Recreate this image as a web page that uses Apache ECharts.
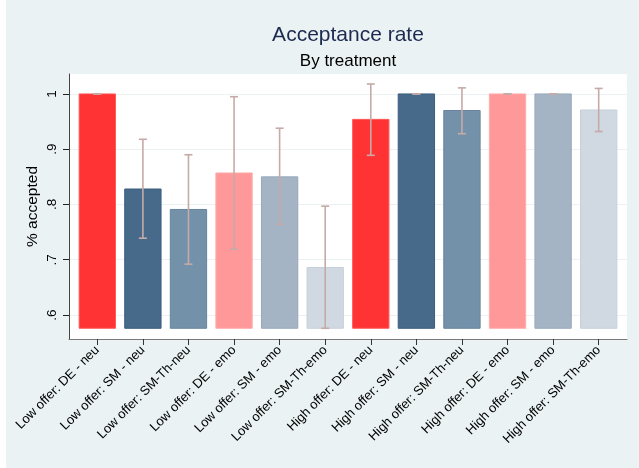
<!DOCTYPE html>
<html>
<head>
<meta charset="utf-8">
<script src="https://cdn.jsdelivr.net/npm/echarts@6/dist/echarts.min.js"></script>
<style>
  html, body { margin: 0; padding: 0; background: #ffffff; }
  #chart { width: 639px; height: 468px; }
</style>
</head>
<body>
<div id="chart"></div>
<script>
// Treatment groups along the x axis
const categories = [
  'Low offer: DE - neu', 'Low offer: SM - neu', 'Low offer: SM-Th-neu',
  'Low offer: DE - emo', 'Low offer: SM - emo', 'Low offer: SM-Th-emo',
  'High offer: DE - neu', 'High offer: SM - neu', 'High offer: SM-Th-neu',
  'High offer: DE - emo', 'High offer: SM - emo', 'High offer: SM-Th-emo'
];
// Mean share accepted per treatment
const acceptRate = [1.0, 0.828, 0.791, 0.857, 0.850, 0.686,
                    0.954, 1.0, 0.970, 1.0, 1.0, 0.971];
// Confidence interval bounds
const ciLow  = [1.0, 0.739, 0.692, 0.719, 0.764, 0.576,
                0.889, 1.0, 0.928, 1.0, 1.0, 0.932];
const ciHigh = [1.0, 0.918, 0.890, 0.995, 0.938, 0.797,
                1.018, 1.0, 1.011, 1.0, 1.0, 1.010];
// Y tick values
const yTicks = [0.6, 0.7, 0.8, 0.9, 1.0];

const fills   = ['#ff3333', '#476a8b', '#7491aa', '#ff9999', '#a4b4c5', '#d0d9e2'];
const borders = ['#ff5a5a', '#3b5c7e', '#67849e', '#ffaaaa', '#97a8ba', '#c6d0da'];
const barBase = Math.min.apply(null, ciLow);
const idx = categories.map((_, i) => i);
const FONT = 'Liberation Sans, Arial, sans-serif';

const chart = echarts.init(document.getElementById('chart'), null, { renderer: 'canvas' });

chart.setOption({
  backgroundColor: '#ffffff',
  animation: false,
  graphic: [{
    type: 'rect', z: -10, silent: true,
    shape: { x: 6, y: 0, width: 633, height: 468 },
    style: { fill: '#eaf2f3' }
  }],
  title: [
    { text: 'Acceptance rate', left: 348, top: 25, textAlign: 'center', padding: 0,
      textStyle: { fontFamily: FONT, fontSize: 21, fontWeight: 'normal', color: '#1c2a50' } },
    { text: 'By treatment', left: 348, top: 53, textAlign: 'center', padding: 0,
      textStyle: { fontFamily: FONT, fontSize: 17, fontWeight: 'normal', color: '#000000' } }
  ],
  grid: { left: 69, right: 12, top: 74, bottom: 129, show: true, backgroundColor: '#ffffff', borderWidth: 0 },
  xAxis: {
    type: 'value', min: -0.621, max: 11.621,
    axisLine: { show: true, onZero: false, lineStyle: { color: '#7a7a7a', width: 1 } },
    axisTick: { show: true, length: 6, customValues: idx, lineStyle: { color: '#333333' } },
    splitLine: { show: false },
    axisLabel: {
      customValues: idx, rotate: 45, margin: 9,
      fontFamily: FONT, fontSize: 13, color: '#000000',
      formatter: v => categories[Math.round(v)]
    }
  },
  yAxis: {
    type: 'value', min: 0.5566, max: 1.0361,
    name: '% accepted', nameLocation: 'middle', nameGap: 28, nameRotate: 90,
    nameMoveOverlap: false,
    nameTextStyle: { fontFamily: FONT, fontSize: 15.5, color: '#000000' },
    axisLine: { show: true, onZero: false, lineStyle: { color: '#444444', width: 1 } },
    axisTick: { show: true, length: 6, customValues: yTicks, lineStyle: { color: '#222222' } },
    splitLine: { show: true, lineStyle: { color: '#eaf2f3', width: 1 } },
    axisLabel: {
      customValues: yTicks, rotate: 90, margin: 10,
      fontFamily: FONT, fontSize: 13.5, color: '#000000',
      formatter: v => (Math.abs(v - 1) < 1e-9 ? '1' : String(+v.toFixed(1)).replace(/^0/, ''))
    }
  },
  series: [
    {
      type: 'custom',
      data: acceptRate.map((v, i) => [i, v]),
      renderItem: function (params, api) {
        const i = api.value(0);
        const top = api.coord([i, api.value(1)]);
        const bot = api.coord([i, barBase]);
        const w = api.size([0.797, 0])[0];
        const c = i % 6;
        return {
          type: 'rect',
          shape: { x: top[0] - w / 2, y: top[1], width: w, height: bot[1] - top[1] },
          style: { fill: fills[c], stroke: borders[c], lineWidth: 1 }
        };
      },
      z: 2
    },
    {
      type: 'custom',
      data: idx.map(i => [i, ciLow[i], ciHigh[i]]),
      renderItem: function (params, api) {
        const i = api.value(0);
        const lo = api.coord([i, api.value(1)]);
        const hi = api.coord([i, api.value(2)]);
        const cap = 4;
        const st = { stroke: '#c6aaa7', lineWidth: 1.6 };
        return {
          type: 'group',
          children: [
            { type: 'line', shape: { x1: lo[0], y1: lo[1], x2: hi[0], y2: hi[1] }, style: st },
            { type: 'line', shape: { x1: hi[0] - cap, y1: hi[1], x2: hi[0] + cap, y2: hi[1] }, style: st },
            { type: 'line', shape: { x1: lo[0] - cap, y1: lo[1], x2: lo[0] + cap, y2: lo[1] }, style: st }
          ]
        };
      },
      z: 3
    }
  ]
});
</script>
</body>
</html>
